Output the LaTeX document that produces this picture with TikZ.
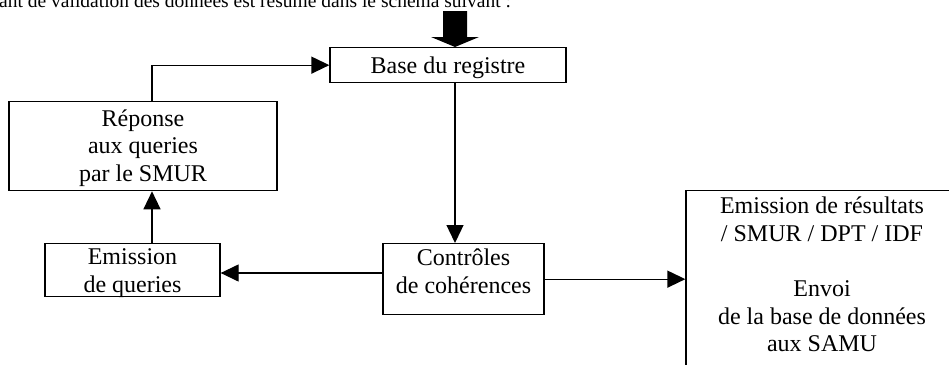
\documentclass[tikz,border=0pt]{standalone}
\usepackage{fontspec}
\setmainfont{Liberation Serif}
\usetikzlibrary{arrows.meta}

\tikzset{
  box/.style = {draw, line width = 1.3pt, anchor = north, align = center, inner sep = 0pt, font = \fontsize{24}{27.6}\selectfont},
  link/.style = {line width = 1.3pt, -{Triangle[length = 18pt, width = 17pt]}}
}

\begin{document}
\begin{tikzpicture}[x = 1pt, y = -1pt]
\useasboundingbox (0, 0) rectangle (949, 364);
\node[anchor = base west, inner sep = 0pt, font = \fontsize{19.5}{23}\selectfont] (intro) at (-1, 7) {ant de validation des donn\'ees est r\'esum\'e dans le sch\'ema suivant :};
\node[box, minimum width = 236pt, text height = 25.7pt, text depth = 9.3pt] (base) at (448, 47) {Base du registre};
\node[box, minimum width = 268pt, text height = 79.9pt, text depth = 9.1pt] (reponse) at (143, 101) {R\'eponse\\aux queries\\par le SMUR};
\node[box, minimum width = 175pt, text height = 48.6pt, text depth = 4.4pt] (emission) at (132.5, 243) {Emission\\de queries};
\node[box, minimum width = 161pt, text height = 49.6pt, text depth = 21.4pt] (controles) at (463.5, 243) {Contr\^oles\\de coh\'erences};
\node[box, minimum width = 272pt, text height = 161pt, text depth = 34pt] (resultats) at (822, 190) {Emission de r\'esultats\\/ SMUR / DPT / IDF\\\\Envoi\\de la base de donn\'ees\\aux SAMU};
\coordinate (col) at (152, 0);
\coordinate (drop) at (455, 0);
\coordinate (row) at (0, 273);
\fill (443, 11) -- (467, 11) -- (467, 37) -- (479, 37) -- (base.north -| drop) -- (431, 37) -- (443, 37) -- cycle;
\draw[link] (reponse.north -| col) |- (base.west);
\draw[link] (emission.north -| col) -- (reponse.south -| col);
\draw[link] (base.south -| drop) -- (controles.north -| drop);
\draw[link] (controles.west |- row) -- (emission.east |- row);
\draw[link] (controles.east) -- (controles.east -| resultats.west);
\end{tikzpicture}
\end{document}
